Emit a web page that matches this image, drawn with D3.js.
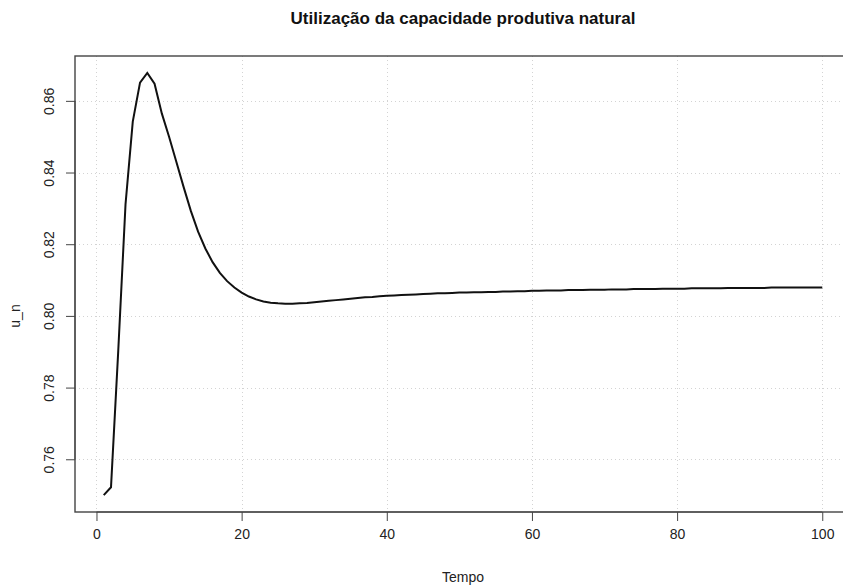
<!DOCTYPE html>
<html>
<head>
<meta charset="utf-8">
<script src="https://cdn.jsdelivr.net/npm/d3@7"></script>
<style>
  html, body { margin: 0; padding: 0; background: #fff; }
  svg { display: block; font-family: "Liberation Sans", Arial, sans-serif; }
</style>
</head>
<body>
<svg id="chart" width="843" height="588"></svg>
<script>
// Simulated series: natural capacity utilisation over time
const tempo = d3.range(1, 101);
const uN = [
  0.7500, 0.7522, 0.7903, 0.8311, 0.8542, 0.8651, 0.8678, 0.8648, 0.8565, 0.8500,
  0.8430, 0.8360, 0.8293, 0.8235, 0.8188, 0.8150, 0.8120, 0.8097, 0.8079, 0.8065,
  0.8054, 0.8046, 0.8040, 0.8037, 0.8035, 0.8034, 0.8034, 0.8035, 0.8036, 0.8038,
  0.8040, 0.8042, 0.8044, 0.8046, 0.8048, 0.8050, 0.8052, 0.8053, 0.8055, 0.8056,
  0.8057, 0.8058, 0.8059, 0.8060, 0.8061, 0.8062, 0.8063, 0.8063, 0.8064, 0.8065,
  0.8065, 0.8066, 0.8066, 0.8067, 0.8067, 0.8068, 0.8068, 0.8069, 0.8069, 0.8070,
  0.8070, 0.8071, 0.8071, 0.8071, 0.8072, 0.8072, 0.8072, 0.8073, 0.8073, 0.8073,
  0.8074, 0.8074, 0.8074, 0.8075, 0.8075, 0.8075, 0.8075, 0.8076, 0.8076, 0.8076,
  0.8076, 0.8077, 0.8077, 0.8077, 0.8077, 0.8077, 0.8078, 0.8078, 0.8078, 0.8078,
  0.8078, 0.8078, 0.8079, 0.8079, 0.8079, 0.8079, 0.8079, 0.8079, 0.8079, 0.8079
];
const xTicks = [0, 20, 40, 60, 80, 100];
const yTicks = [0.76, 0.78, 0.80, 0.82, 0.84, 0.86];
const titleText = "Utilização da capacidade produtiva natural";
const xLabel = "Tempo";
const yLabel = "u_n";

const svg = d3.select("#chart");
const box = { left: 75, right: 851, top: 56, bottom: 512 };
const font = "'Liberation Sans', Arial, sans-serif";

// Axis ranges padded by 4% of the data span on each side
function padded(ext) {
  const p = (ext[1] - ext[0]) * 0.04;
  return [ext[0] - p, ext[1] + p];
}
const x = d3.scaleLinear().domain(padded(d3.extent(tempo))).range([box.left, box.right]);
const y = d3.scaleLinear().domain(padded(d3.extent(uN))).range([box.bottom, box.top]);

// Dotted grid
const grid = svg.append("g").attr("stroke", "#d3d3d3").attr("stroke-width", 1)
  .attr("stroke-dasharray", "1,3");
grid.selectAll("line.gx").data(xTicks).join("line")
  .attr("x1", d => Math.round(x(d)) + 0.5).attr("x2", d => Math.round(x(d)) + 0.5)
  .attr("y1", box.top).attr("y2", box.bottom);
grid.selectAll("line.gy").data(yTicks).join("line")
  .attr("y1", d => Math.round(y(d)) + 0.5).attr("y2", d => Math.round(y(d)) + 0.5)
  .attr("x1", box.left).attr("x2", box.right);

// Series line
const line = d3.line().x((d, i) => x(tempo[i])).y(d => y(d));
svg.append("path").datum(uN)
  .attr("fill", "none").attr("stroke", "#111").attr("stroke-width", 2)
  .attr("stroke-linejoin", "miter").attr("d", line);

// Plot frame
svg.append("rect")
  .attr("x", box.left).attr("y", box.top)
  .attr("width", box.right - box.left).attr("height", box.bottom - box.top)
  .attr("fill", "none").attr("stroke", "#444").attr("stroke-width", 1.4);

// Bottom axis
const xAxis = d3.axisBottom(x).tickValues(xTicks).tickSize(9).tickSizeOuter(0).tickPadding(8)
  .tickFormat(d3.format("d"));
const gx = svg.append("g").attr("transform", `translate(0,${box.bottom})`).call(xAxis);
gx.select(".domain").attr("d", `M${x(xTicks[0])},0H${x(xTicks[xTicks.length - 1])}`)
  .attr("stroke", "#444");
gx.selectAll(".tick line").attr("stroke", "#444");
gx.selectAll(".tick text").attr("font-size", 14).attr("fill", "#222")
  .attr("font-family", font);

// Left axis with rotated labels
const yAxis = d3.axisLeft(y).tickValues(yTicks).tickSize(9).tickSizeOuter(0).tickPadding(0)
  .tickFormat(d3.format(".2f"));
const gy = svg.append("g").attr("transform", `translate(${box.left},0)`).call(yAxis);
gy.select(".domain").attr("d", `M0,${y(yTicks[0])}V${y(yTicks[yTicks.length - 1])}`)
  .attr("stroke", "#444");
gy.selectAll(".tick line").attr("stroke", "#444");
gy.selectAll(".tick text")
  .attr("font-size", 14).attr("fill", "#222")
  .attr("font-family", font)
  .attr("x", 0).attr("dy", null)
  .attr("text-anchor", "middle")
  .attr("transform", "translate(-21,0) rotate(-90)");

// Titles
svg.append("text")
  .attr("x", (box.left + box.right) / 2).attr("y", 24)
  .attr("text-anchor", "middle").attr("font-size", 17).attr("font-weight", "bold")
  .attr("fill", "#111").text(titleText);
svg.append("text")
  .attr("x", (box.left + box.right) / 2).attr("y", 582)
  .attr("text-anchor", "middle").attr("font-size", 14).attr("fill", "#222").text(xLabel);
svg.append("text")
  .attr("transform", `translate(20,316) rotate(-90)`)
  .attr("text-anchor", "middle").attr("font-size", 14).attr("fill", "#222").text(yLabel);
</script>
</body>
</html>
